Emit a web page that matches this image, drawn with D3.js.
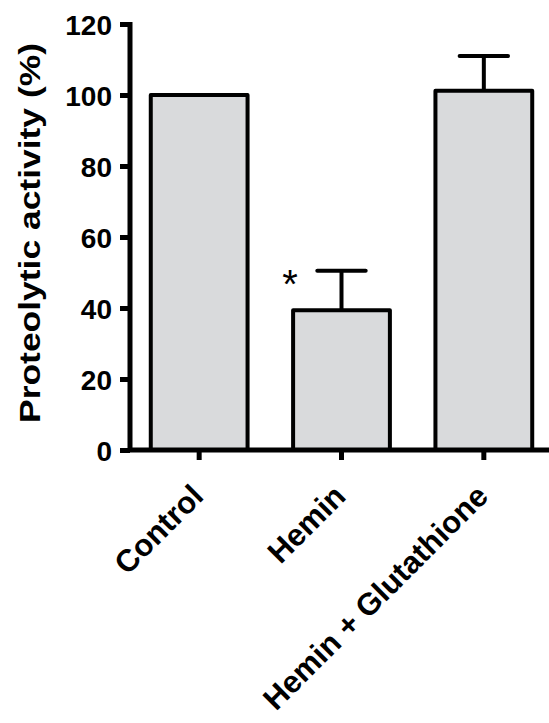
<!DOCTYPE html>
<meta charset="utf-8">
<head>
<title>proteolytic activity</title>
<script src="https://cdn.jsdelivr.net/npm/d3@7"></script>
<style>
  body { margin: 0; background: #fff; }
  text { font-family: Arial, "Liberation Sans", sans-serif; font-weight: bold; fill: #000; }
</style>
</head>
<body>

<div id="chart"></div>

<script>

const width = 549;
const height = 723;

// values
const groups = ["Control", "Hemin", "Hemin + Glutathione"];
const means = [100, 39.4, 101.2];
const errors = [0, 11.1, 9.8];
const marks = ["", "*", ""];
const yTicks = [0, 20, 40, 60, 80, 100, 120];

const svg = d3.select("#chart")
  .append("svg")
  .attr("width", width)
  .attr("height", height)
  .attr("viewBox", [0, 0, width, height]);

const y = d3.scaleLinear()
  .domain([0, 120])
  .range([450, 24]);

const x = d3.scaleBand()
  .domain(groups)
  .range([128, 555])
  .paddingInner(0.32)
  .paddingOuter(0.16);

const rows = groups.map((g, i) => ({ g, v: means[i], e: errors[i], m: marks[i] }));

// bars
svg.append("g")
  .selectAll("rect")
  .data(rows)
  .join("rect")
    .attr("x", d => x(d.g))
    .attr("y", d => y(d.v))
    .attr("width", x.bandwidth())
    .attr("height", d => y(0) - y(d.v))
    .attr("fill", "#d9dadc")
    .attr("stroke", "#000")
    .attr("stroke-width", 4)
    .attr("stroke-linejoin", "round");

// error bars (upper only)
const err = svg.append("g")
  .attr("stroke", "#000")
  .attr("stroke-width", 4)
  .selectAll("g")
  .data(rows.filter(d => d.e > 0))
  .join("g");

err.append("line")
  .attr("x1", d => x(d.g) + x.bandwidth() / 2)
  .attr("x2", d => x(d.g) + x.bandwidth() / 2)
  .attr("y1", d => y(d.v))
  .attr("y2", d => y(d.v + d.e));

err.append("line")
  .attr("stroke-linecap", "round")
  .attr("x1", d => x(d.g) + x.bandwidth() / 4)
  .attr("x2", d => x(d.g) + x.bandwidth() * 3 / 4)
  .attr("y1", d => y(d.v + d.e))
  .attr("y2", d => y(d.v + d.e));

// significance star
svg.append("g")
  .selectAll("text")
  .data(rows.filter(d => d.m))
  .join("text")
    .attr("x", d => x(d.g) - 3)
    .attr("y", d => y(d.v + d.e) + 27)
    .attr("text-anchor", "middle")
    .style("font-size", "40px")
    .style("font-weight", "normal")
    .text(d => d.m);

// y axis
const yAxis = svg.append("g")
  .attr("transform", "translate(130,0)")
  .call(d3.axisLeft(y).tickValues(yTicks).tickSize(10).tickSizeOuter(0).tickPadding(8));

yAxis.select(".domain")
  .attr("stroke-width", 5)
  .attr("d", `M0,${y(120) - 2}V${y(0) + 2}`);
yAxis.selectAll(".tick line").attr("stroke-width", 5);
yAxis.selectAll(".tick text")
  .attr("dy", "0.36em")
  .style("font-size", "28px")
  .style("font-family", "Arial, 'Liberation Sans', sans-serif")
  .style("font-weight", "bold");

// x axis
const xAxis = svg.append("g")
  .attr("transform", `translate(0,${y(0)})`)
  .call(d3.axisBottom(x).tickSize(10).tickSizeOuter(0).tickFormat(""));

xAxis.select(".domain")
  .attr("stroke-width", 5)
  .attr("d", `M128,0H${width}`);
xAxis.selectAll(".tick line").attr("stroke-width", 5);

// rotated category labels
svg.append("g")
  .selectAll("text")
  .data(groups)
  .join("text")
    .attr("transform", d => `translate(${x(d) + x.bandwidth() / 2 + 6},${y(0) + 48}) rotate(-45)`)
    .attr("text-anchor", "end")
    .style("font-size", "31px")
    .text(d => d);

// y title
svg.append("text")
  .attr("transform", "translate(40,233) rotate(-90)")
  .attr("text-anchor", "middle")
  .style("font-size", "30px")
  .attr("textLength", 380)
  .attr("lengthAdjust", "spacingAndGlyphs")
  .text("Proteolytic activity (%)");

</script>

</body>
